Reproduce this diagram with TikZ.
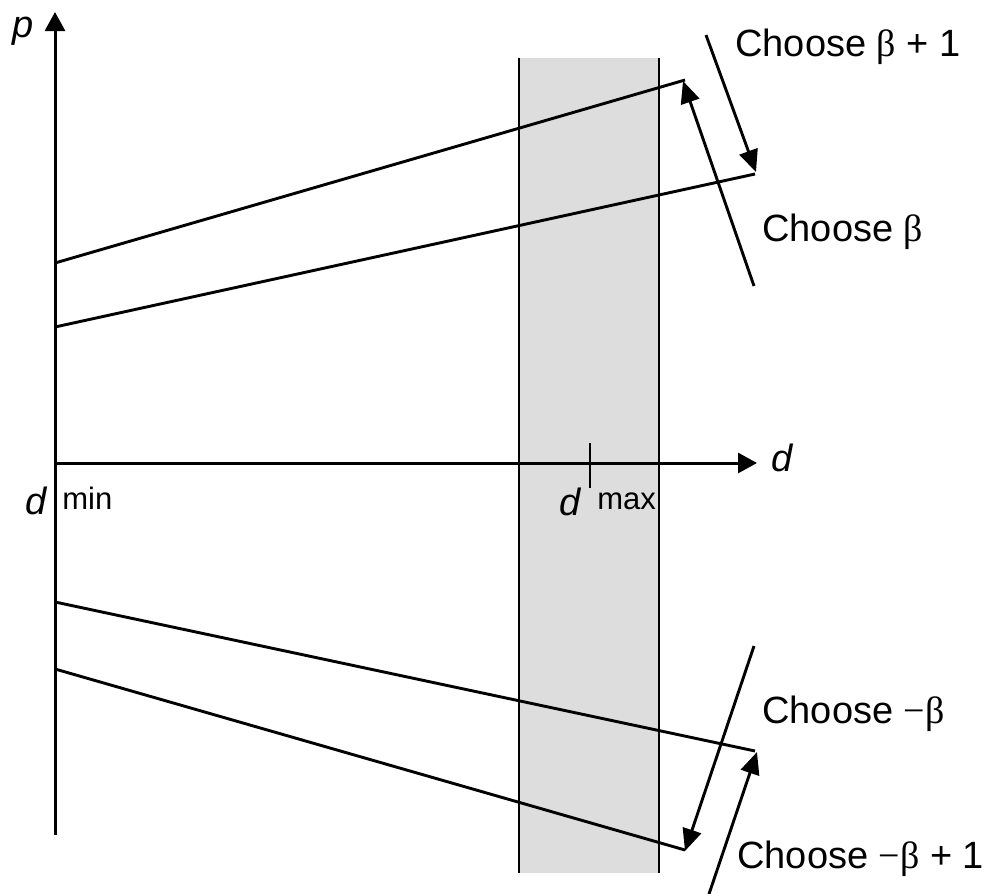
\documentclass[tikz,border=0pt]{standalone}
\usepackage{fontspec}
\setmainfont{Liberation Sans}
\newfontfamily\greekfont{Liberation Serif}
\usetikzlibrary{arrows.meta, positioning, calc}
\definecolor{bandgray}{RGB}{221,221,221}
\newcommand{\gb}{{\greekfont β}}
\newcommand{\gm}{{\greekfont −}}
\tikzset{
  axisline/.style={line width=1.5pt, -{Triangle[length=9.5pt,width=10pt]}},
  plain/.style={line width=1.45pt},
  choice/.style={line width=1.45pt, -{Triangle[length=11pt,width=9.5pt]}},
  lbl/.style={inner sep=0pt, font=\fontsize{19}{23}\selectfont},
  ilbl/.style={inner sep=0pt, font=\fontsize{19}{23}\selectfont\itshape},
  sublbl/.style={inner sep=0pt, font=\fontsize{15.5}{18}\selectfont},
}
\begin{document}
\begin{tikzpicture}[x=0.5pt, y=-0.5pt]
  \useasboundingbox (0,0) rectangle (986,894);
  % band between the two limits
  \fill[bandgray] (519,58) rectangle (659,873);
  \coordinate (bl1) at (519,58);  \coordinate (bl2) at (519,873);
  \coordinate (br1) at (659,58);  \coordinate (br2) at (659,873);
  \draw[plain] (bl1) -- (bl2);
  \draw[plain] (br1) -- (br2);
  % axes
  \coordinate (o) at (55,463);
  \coordinate (pbot) at (55,835);
  \coordinate (ptop) at (55,12);
  \coordinate (dend) at (757,463);
  \draw[axisline] (pbot) -- (ptop);
  \draw[axisline] (o) -- (dend);
  \node[ilbl] (plab) at (23,31) {p};
  \node[ilbl] (dlab) at (782,458) {d};
  % tick at d max
  \coordinate (t1) at (590,443); \coordinate (t2) at (590,488);
  \draw[plain] (t1) -- (t2);
  \node[ilbl, anchor=base] (dmin) at (36,514) {d};
  \node[sublbl, anchor=base west] (minlab) at (62,509) {min};
  \node[ilbl, anchor=base] (dmax) at (570,515) {d};
  \node[sublbl, anchor=base west] (maxlab) at (597,509) {max};
  % upper pair of lines
  \coordinate (ua1) at (55,263);  \coordinate (ua2) at (685,80);
  \coordinate (ub1) at (55,327);  \coordinate (ub2) at (755,174);
  \draw[plain] (ua1) -- (ua2);
  \draw[plain] (ub1) -- (ub2);
  % lower pair of lines
  \coordinate (la1) at (55,602);  \coordinate (la2) at (755,751);
  \coordinate (lb1) at (55,669);  \coordinate (lb2) at (685,850);
  \draw[plain] (la1) -- (la2);
  \draw[plain] (lb1) -- (lb2);
  % choice arrows
  \coordinate (c1) at (706,35);   \coordinate (c1t) at (756,172);
  \coordinate (c2) at (754,286);  \coordinate (c2t) at (683,81);
  \coordinate (c3) at (754,646);  \coordinate (c3t) at (685,851);
  \coordinate (c4) at (709,894);  \coordinate (c4t) at (757,752);
  \draw[choice] (c1) -- (c1t);
  \draw[choice] (c2) -- (c2t);
  \draw[choice] (c3) -- (c3t);
  \draw[choice] (c4) -- (c4t);
  \node[lbl, anchor=west] (ch1) at (735,47) {Choose \gb{} + 1};
  \node[lbl, anchor=west] (ch2) at (762,232) {Choose \gb};
  \node[lbl, anchor=west] (ch3) at (762,714) {Choose \gm\gb};
  \node[lbl, anchor=west] (ch4) at (737,859) {Choose \gm\gb{} + 1};
\end{tikzpicture}
\end{document}
